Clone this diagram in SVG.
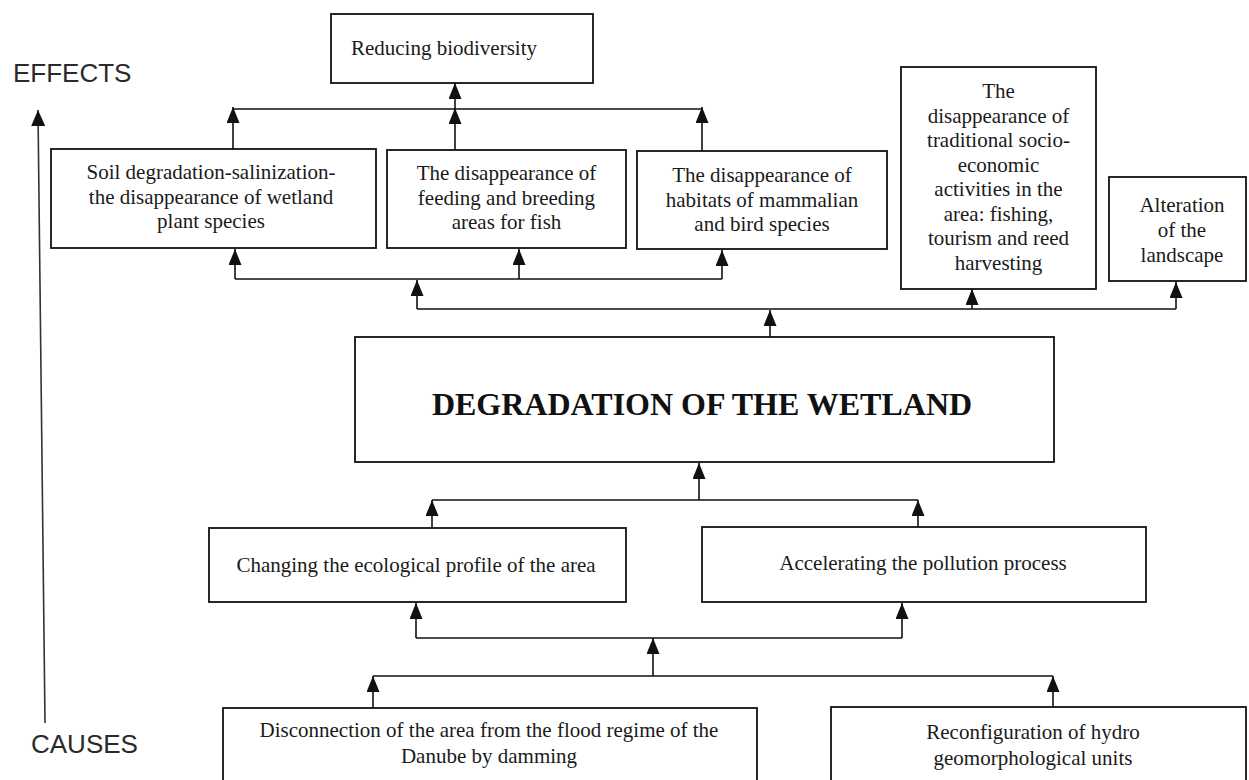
<svg xmlns="http://www.w3.org/2000/svg" width="1249" height="780" viewBox="0 0 1249 780">
<style>
.box{fill:#fff;stroke:#111;stroke-width:1.8}
.t{font-family:"Liberation Serif","Times New Roman",serif;font-size:21px;fill:#1a1a1a;text-anchor:middle}
.big{font-family:"Liberation Serif","Times New Roman",serif;font-size:32px;font-weight:bold;fill:#111;text-anchor:middle}
.lab{font-family:"Liberation Sans",Arial,sans-serif;font-size:26px;fill:#2a2a2a}
.c{fill:none;stroke:#111;stroke-width:1.6}
.a{fill:none;stroke:#111;stroke-width:1.6;marker-end:url(#ah)}
</style>
<defs>
<marker id="ah" markerUnits="userSpaceOnUse" viewBox="0 0 16 13" refX="16" refY="6.5" markerWidth="16" markerHeight="13" orient="auto">
<path d="M0,0 L16,6.5 L0,13 z" fill="#111"/>
</marker>
<marker id="ah2" markerUnits="userSpaceOnUse" viewBox="0 0 16 14" refX="16" refY="7" markerWidth="16" markerHeight="14" orient="auto">
<path d="M0,0 L16,7 L0,14 z" fill="#111"/>
</marker>
</defs>
<rect width="1249" height="780" fill="#fff"/>

<g id="axis">
<line x1="45" y1="723" x2="38" y2="110" stroke="#333" stroke-width="1.6" marker-end="url(#ah2)"/>
<text class="lab" x="13" y="82">EFFECTS</text>
<text class="lab" x="31" y="753">CAUSES</text>
</g>

<g id="connectors">
<path class="c" d="M233,109 H702"/>
<line class="a" x1="233" y1="149" x2="233" y2="107"/>
<line class="a" x1="702" y1="151" x2="702" y2="107"/>
<line class="a" x1="455" y1="150" x2="455" y2="108"/>
<line class="a" x1="455" y1="109" x2="455" y2="83"/>

<path class="c" d="M235,279 H722"/>
<line class="a" x1="235" y1="279" x2="235" y2="249"/>
<line class="a" x1="519" y1="279" x2="519" y2="249"/>
<line class="a" x1="722" y1="279" x2="722" y2="250"/>
<line class="a" x1="417" y1="309" x2="417" y2="280"/>

<path class="c" d="M417,309 H1176"/>
<line class="a" x1="770" y1="337" x2="770" y2="310"/>
<line class="a" x1="972" y1="309" x2="972" y2="289"/>
<line class="a" x1="1176" y1="309" x2="1176" y2="282"/>

<line class="a" x1="699" y1="500" x2="699" y2="463"/>
<path class="c" d="M432,500 H918"/>
<line class="a" x1="432" y1="528" x2="432" y2="500"/>
<line class="a" x1="918" y1="527" x2="918" y2="500"/>

<path class="c" d="M416,638 H902"/>
<line class="a" x1="416" y1="638" x2="416" y2="603"/>
<line class="a" x1="902" y1="638" x2="902" y2="603"/>
<line class="a" x1="653" y1="676" x2="653" y2="638"/>

<path class="c" d="M373,676 H1053"/>
<line class="a" x1="373" y1="708" x2="373" y2="676"/>
<line class="a" x1="1053" y1="707" x2="1053" y2="676"/>
</g>

<g id="reducing">
<rect class="box" x="331" y="14" width="262" height="69"/>
<text class="t" x="444" y="55">Reducing biodiversity</text>
</g>

<g id="soil">
<rect class="box" x="51" y="149" width="325" height="99"/>
<text class="t" x="211" y="179">Soil degradation-salinization-</text>
<text class="t" x="211" y="203.5">the disappearance of wetland</text>
<text class="t" x="211" y="228">plant species</text>
</g>

<g id="fish">
<rect class="box" x="387" y="150" width="239" height="98"/>
<text class="t" x="506.5" y="180">The disappearance of</text>
<text class="t" x="506.5" y="204.5">feeding and breeding</text>
<text class="t" x="506.5" y="229">areas for fish</text>
</g>

<g id="habitats">
<rect class="box" x="637" y="151" width="250" height="98"/>
<text class="t" x="762" y="182">The disappearance of</text>
<text class="t" x="762" y="206.5">habitats of mammalian</text>
<text class="t" x="762" y="231">and bird species</text>
</g>

<g id="traditional">
<rect class="box" x="901" y="67" width="195" height="222"/>
<text class="t" x="998.5" y="98">The</text>
<text class="t" x="998.5" y="122.5">disappearance of</text>
<text class="t" x="998.5" y="147">traditional socio-</text>
<text class="t" x="998.5" y="171.5">economic</text>
<text class="t" x="998.5" y="196">activities in the</text>
<text class="t" x="998.5" y="220.5">area: fishing,</text>
<text class="t" x="998.5" y="245">tourism and reed</text>
<text class="t" x="998.5" y="269.5">harvesting</text>
</g>

<g id="landscape">
<rect class="box" x="1109" y="177" width="137" height="104"/>
<text class="t" x="1182" y="212">Alteration</text>
<text class="t" x="1182" y="237">of the</text>
<text class="t" x="1182" y="262">landscape</text>
</g>

<g id="degradation">
<rect class="box" x="355" y="337" width="699" height="125"/>
<text class="big" x="702" y="415">DEGRADATION OF THE WETLAND</text>
</g>

<g id="ecological">
<rect class="box" x="209" y="528" width="417" height="74"/>
<text class="t" x="416" y="572">Changing the ecological profile of the area</text>
</g>

<g id="pollution">
<rect class="box" x="702" y="527" width="444" height="75"/>
<text class="t" x="923" y="570">Accelerating the pollution process</text>
</g>

<g id="disconnection">
<rect class="box" x="223" y="708" width="534" height="90"/>
<text class="t" x="489" y="737">Disconnection of the area from the flood regime of the</text>
<text class="t" x="489" y="763">Danube by damming</text>
</g>

<g id="reconfiguration">
<rect class="box" x="831" y="707" width="415" height="90"/>
<text class="t" x="1033" y="739">Reconfiguration of hydro</text>
<text class="t" x="1033" y="765">geomorphological units</text>
</g>
</svg>
